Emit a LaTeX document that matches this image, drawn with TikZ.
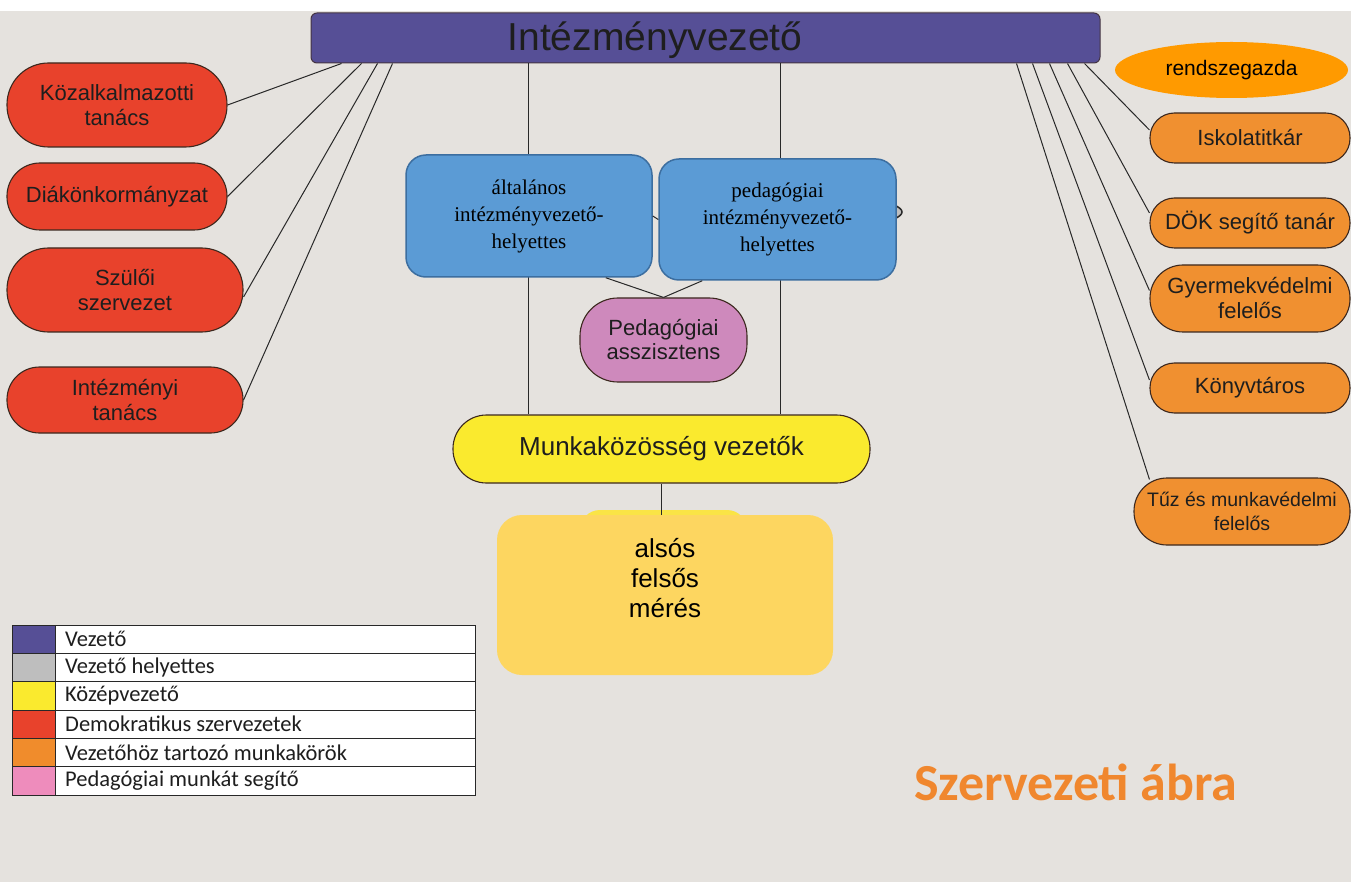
\documentclass[tikz,border=0pt]{standalone}
\usepackage{fontspec}
\setmainfont{Liberation Sans}
\newfontfamily\serifblue{Liberation Serif}
\newfontfamily\calib{Carlito}
\usetikzlibrary{calc,shapes.geometric}
\definecolor{bgc}{RGB}{229,226,222}
\definecolor{vezc}{RGB}{86,79,150}
\definecolor{helyc}{RGB}{190,190,190}
\definecolor{kozepc}{RGB}{250,234,46}
\definecolor{demc}{RGB}{232,66,44}
\definecolor{jobc}{RGB}{240,144,48}
\definecolor{legjobc}{RGB}{240,140,44}
\definecolor{pinkc}{RGB}{206,137,188}
\definecolor{legpinkc}{RGB}{238,140,188}
\definecolor{bluec}{RGB}{91,155,213}
\definecolor{blueedge}{RGB}{60,110,160}
\definecolor{alsosc}{RGB}{253,214,96}
\definecolor{alsosback}{RGB}{250,228,70}
\definecolor{rendc}{RGB}{255,154,0}
\definecolor{edgec}{RGB}{60,40,30}
\definecolor{linec}{RGB}{40,40,40}
\definecolor{txtc}{RGB}{30,30,30}
\definecolor{titlec}{RGB}{240,135,46}
\tikzset{
  pill/.style={draw=edgec, line width=1.1pt, inner sep=0pt, align=center,
    font=\fontsize{22}{25}\selectfont, text=txtc},
  redpill/.style={pill, fill=demc},
  orpill/.style={pill, fill=jobc},
  bluebox/.style={draw=blueedge, fill=bluec, line width=1.5pt, inner sep=0pt,
    align=center, rounded corners=20pt, font=\serifblue\fontsize{21}{27}\selectfont, text=black},
  conn/.style={draw=linec, line width=1pt},
  legtext/.style={anchor=west, inner sep=0pt, font=\calib\fontsize{22.5}{24}\selectfont, text=txtc},
}
\begin{document}
\begin{tikzpicture}[x=1pt,y=-1pt]
\useasboundingbox (0,0) rectangle (1351,882);
\fill[white] (0,0) rectangle (1351,882);
\fill[bgc] (0,11) rectangle (1351,882);

% top box
\node[draw=edgec!70!vezc, fill=vezc, line width=1pt, rounded corners=6pt,
  minimum width=789pt, minimum height=50pt, inner sep=0pt] (top) at (705.5,38) {};
\node[inner sep=0pt, font=\fontsize{39}{40}\selectfont, text=txtc] (toptext) at (655,40) {Intézményvezető};

% left nodes
\node[redpill, minimum width=220pt, minimum height=84pt, rounded corners=41.5pt] (koz) at (117,105) {Közalkalmazotti\\tanács};
\node[redpill, minimum width=220pt, minimum height=67pt, rounded corners=33pt] (diak) at (117,196.5) {Diákönkormányzat};
\node[redpill, minimum width=236pt, minimum height=84pt, rounded corners=41.5pt] (szul) at (125,290) {Szülői\\szervezet};
\node[redpill, minimum width=236pt, minimum height=66pt, rounded corners=32.5pt] (intez) at (125,400) {Intézményi\\tanács};

% right nodes
\node[ellipse, fill=rendc, minimum width=233pt, minimum height=56pt, inner sep=0pt,
  font=\fontsize{21}{24}\selectfont, text=black] (rend) at (1231.5,70) {rendszegazda};
\node[orpill, minimum width=200pt, minimum height=50pt, rounded corners=24.5pt] (isk) at (1250,138) {Iskolatitkár};
\node[orpill, minimum width=200pt, minimum height=50pt, rounded corners=24.5pt] (dok) at (1250,223) {DÖK segítő tanár};
\node[orpill, minimum width=200pt, minimum height=67pt, rounded corners=33pt] (gyer) at (1250,298.5) {Gyermekvédelmi\\felelős};
\node[orpill, minimum width=200pt, minimum height=50pt, rounded corners=24.5pt] (konyv) at (1250,388) {Könyvtáros};
\node[orpill, minimum width=216pt, minimum height=67pt, rounded corners=33pt,
  font=\fontsize{19.5}{24}\selectfont] (tuz) at (1242,511.5) {Tűz és munkavédelmi\\felelős};

% middle lower nodes
\node[pill, fill=kozepc, minimum width=417pt, minimum height=68pt, rounded corners=33.5pt,
  font=\fontsize{26}{28}\selectfont] (munk) at (661.5,449) {Munkaközösség vezetők};
\node[fill=alsosback, minimum width=167pt, minimum height=50pt, rounded corners=20pt, inner sep=0pt] (alsosb) at (663.5,535) {};
\node[fill=alsosc, minimum width=336pt, minimum height=160pt, rounded corners=25pt, inner sep=0pt] (alsos) at (665,595) {};
\node[align=center, inner sep=0pt, font=\fontsize{26}{30}\selectfont, text=black] (alsostext) at (665,578) {alsós\\felsős\\mérés};

% connectors
\draw[conn] ([xshift=31pt]top.south west) -- (koz.east);
\draw[conn] ([xshift=51pt]top.south west) -- (diak.east);
\draw[conn] ([xshift=67pt]top.south west) -- ([yshift=-7pt]szul.east);
\draw[conn] ([xshift=82pt]top.south west) -- (intez.east);
\draw[conn] ([xshift=218pt]top.south west) -- ([xshift=218pt]top.south west |- munk.north);
\draw[conn] ([xshift=470pt]top.south west) -- ([xshift=470pt]top.south west |- munk.north);
\draw[conn] ([xshift=706pt]top.south west) -- ([xshift=16pt,yshift=-2pt]tuz.north west);
\draw[conn] ([xshift=722pt]top.south west) -- ([yshift=8pt]konyv.west);
\draw[conn] ([xshift=739pt]top.south west) -- ([yshift=8pt]gyer.west);
\draw[conn] ([xshift=757pt]top.south west) -- ([yshift=10pt]dok.west);
\draw[conn] ([xshift=774pt]top.south west) -- ([yshift=8pt]isk.west);
\draw[conn] (munk.south) -- (munk.south |- alsos.north);

% hidden deputy ellipse and blue boxes
\node[ellipse, fill=helyc, draw=linec, line width=1.5pt, minimum width=204pt, minimum height=36pt] (vh) at (800,212) {};
\node[bluebox, minimum width=246pt, minimum height=122pt] (alt) at (529,216) {általános\\intézményvezető-\\helyettes};
\node[bluebox, minimum width=237pt, minimum height=121pt] (ped) at (777.5,219.5) {pedagógiai\\intézményvezető-\\helyettes};
\draw[conn] (alt.east) -- (ped.west);

\node[pill, fill=pinkc, minimum width=167pt, minimum height=84pt, rounded corners=38pt,
  font=\fontsize{22}{24}\selectfont] (asz) at (663.5,340) {Pedagógiai\\asszisztens};
\draw[conn] ([xshift=-47pt]alt.south east) -- (asz.north);
\draw[conn] ([xshift=44pt]ped.south west) -- (asz.north);

% legend
\fill[vezc] (12,625) rectangle (55,653.3);
\fill[helyc] (12,653.3) rectangle (55,681.7);
\fill[kozepc] (12,681.7) rectangle (55,710);
\fill[demc] (12,710) rectangle (55,738.3);
\fill[legjobc] (12,738.3) rectangle (55,766.7);
\fill[legpinkc] (12,766.7) rectangle (55,795);
\fill[white] (55,625) rectangle (475,795);
\draw[linec, line width=0.8pt] (12,625) rectangle (475,795);
\foreach \yy in {653.3,681.7,710,738.3,766.7} \draw[linec, line width=0.8pt] (12,\yy) -- (475,\yy);
\draw[linec, line width=0.8pt] (55,625) -- (55,795);
\node[legtext] (lg1) at (65,639.2) {Vezető};
\node[legtext] (lg2) at (65,667.5) {Vezető helyettes};
\node[legtext] (lg3) at (65,695.8) {Középvezető};
\node[legtext] (lg4) at (65,724.2) {Demokratikus szervezetek};
\node[legtext] (lg5) at (65,752.5) {Vezetőhöz tartozó munkakörök};
\node[legtext] (lg6) at (65,780.8) {Pedagógiai munkát segítő};

% title
\node[inner sep=0pt, font=\calib\bfseries\fontsize{52}{56}\selectfont, text=titlec] (title) at (1076,782) {Szervezeti ábra};
\end{tikzpicture}
\end{document}
